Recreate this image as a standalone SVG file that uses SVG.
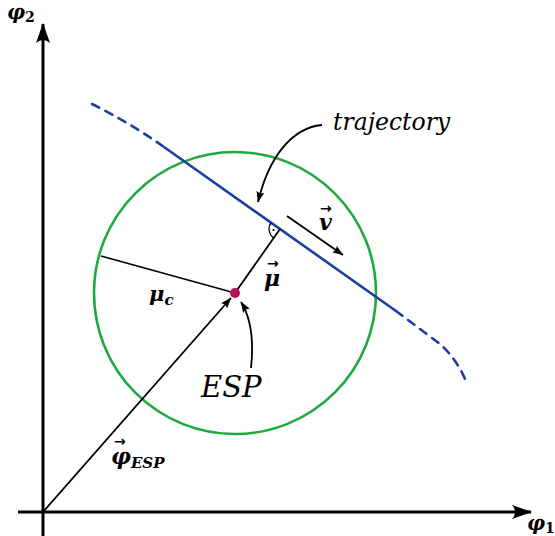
<svg xmlns="http://www.w3.org/2000/svg" width="555" height="536" viewBox="0 0 555 536">
<style>
.ax{stroke:#000;stroke-width:3;fill:none}
.ln{stroke:#000;stroke-width:1.8;fill:none}
.traj{stroke:#1c3f9f;stroke-width:2.6;fill:none}
.dash{stroke-dasharray:8 7;stroke-linecap:round}
.m{font-family:"DejaVu Serif","Liberation Serif",serif;font-style:italic;fill:#000}
.b{font-weight:bold}
.vec{font-family:"DejaVu Sans","Liberation Sans",sans-serif;font-size:14px;font-weight:bold;fill:#000}
</style>
<defs>
<marker id="big" viewBox="0 0 20 14" refX="19" refY="7" markerWidth="20" markerHeight="14" markerUnits="userSpaceOnUse" orient="auto">
<path d="M0,0 Q6,7 0,14 L20,7 Z" fill="#000"/>
</marker>
<marker id="sm" viewBox="0 0 11 8" refX="10.5" refY="4" markerWidth="11" markerHeight="8" markerUnits="userSpaceOnUse" orient="auto">
<path d="M0,0 Q3,4 0,8 L11,4 Z" fill="#000"/>
</marker>
</defs>
<g id="axes">
<line class="ax" x1="43" y1="536" x2="43" y2="24" marker-end="url(#big)"/>
<line class="ax" x1="18" y1="512" x2="531" y2="512" marker-end="url(#big)"/>
<text class="m b" x="7" y="19" font-size="20">φ<tspan font-size="14" dy="3" font-style="normal">2</tspan></text>
<text class="m b" x="527" y="530" font-size="20">φ<tspan font-size="14" dy="3" font-style="normal">1</tspan></text>
</g>
<g id="region">
<circle cx="235" cy="293" r="141" fill="none" stroke="#1faa3f" stroke-width="2.6"/>
</g>
<g id="trajectory">
<path class="traj dash" d="M92,104 Q130,123 164,147"/>
<line class="traj" x1="164" y1="147" x2="396" y2="311"/>
<path class="traj dash" d="M396,311 L440,344 Q456,358 466,381"/>
<text class="m" x="333" y="130" font-size="23.5">trajectory</text>
</g>
<g id="connectors">
<line class="ln" x1="43" y1="512" x2="231" y2="298" marker-end="url(#sm)"/>
<line class="ln" x1="235" y1="293" x2="280" y2="229"/>
<line class="ln" x1="101" y1="256" x2="235" y2="293"/>
<line class="ln" x1="287" y1="216" x2="343" y2="255" marker-end="url(#sm)"/>
<path class="ln" d="M322,125 C290,128 268,160 258,202" marker-end="url(#sm)"/>
<path class="ln" d="M251,368 C254,340 251,318 241,302" marker-end="url(#sm)"/>
<path d="M271,222.7 A11,11 0 0 0 273.7,238" fill="none" stroke="#000" stroke-width="1.2"/>
<circle cx="273.5" cy="230" r="1.1" fill="#000"/>
</g>
<g id="esp">
<circle cx="235" cy="293" r="5" fill="#b0125b"/>
<text class="m" x="201" y="397" font-size="29">ESP</text>
</g>
<g id="labels">
<text class="m b" x="149" y="301" font-size="21">μ<tspan font-size="15" dy="4">c</tspan></text>
<text class="m b" x="264" y="286" font-size="22">μ</text>
<text class="vec" x="267" y="268">→</text>
<text class="m b" x="319" y="230" font-size="22">v</text>
<text class="vec" x="320" y="213">→</text>
<text class="m b" x="111" y="464" font-size="22">φ<tspan font-size="15" dy="4">ESP</tspan></text>
<text class="vec" x="114" y="446">→</text>
</g>
</svg>
